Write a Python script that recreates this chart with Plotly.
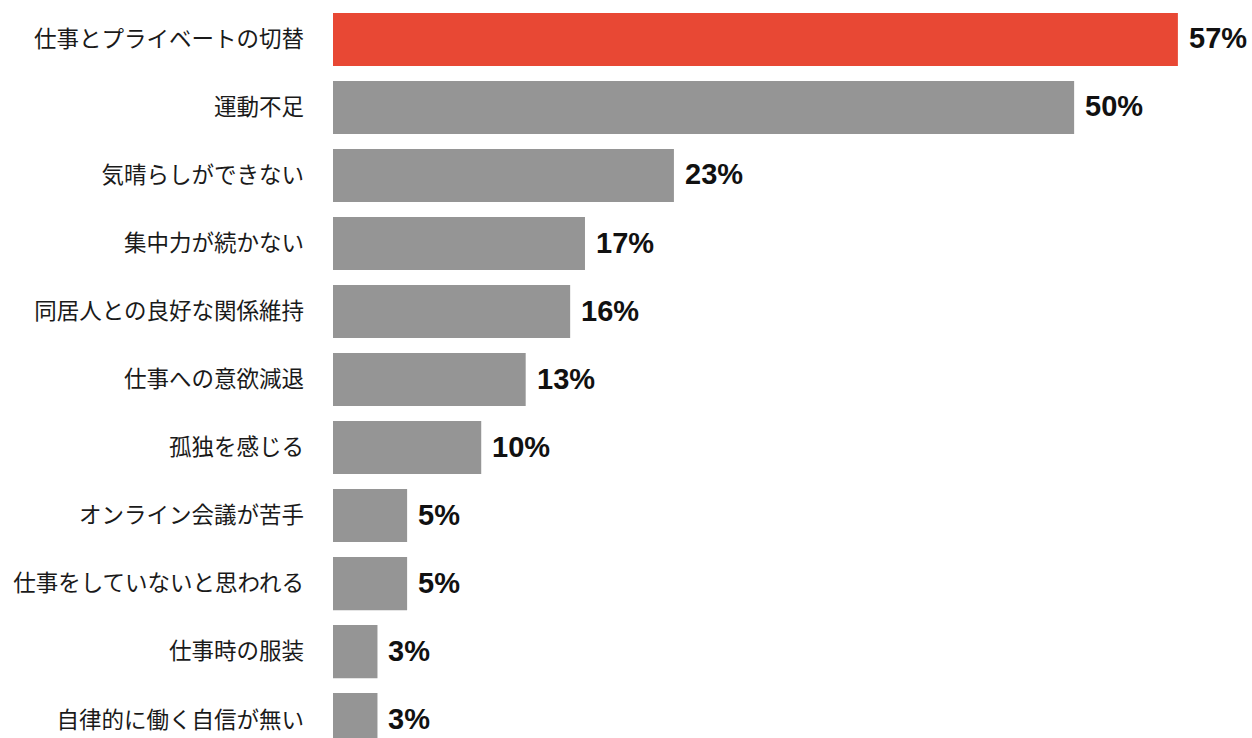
import plotly.graph_objects as go

categories = [
    "仕事とプライベートの切替",
    "運動不足",
    "気晴らしができない",
    "集中力が続かない",
    "同居人との良好な関係維持",
    "仕事への意欲減退",
    "孤独を感じる",
    "オンライン会議が苦手",
    "仕事をしていないと思われる",
    "仕事時の服装",
    "自律的に働く自信が無い",
]
values = [57, 50, 23, 17, 16, 13, 10, 5, 5, 3, 3]
highlight = "仕事とプライベートの切替"

RED = "#E84834"
GRAY = "#959595"
colors = [RED if c == highlight else GRAY for c in categories]

fig = go.Figure()
fig.add_trace(go.Bar(
    x=values,
    y=categories,
    orientation="h",
    marker=dict(color=colors, line=dict(width=0)),
    width=0.78,
    hoverinfo="skip",
))

for c, v in zip(categories, values):
    fig.add_annotation(
        x=v, y=c, text=f"<b>{v}%</b>", showarrow=False,
        xanchor="left", yanchor="middle", xshift=9, yshift=1,
        font=dict(family="Liberation Sans, Arial, sans-serif", size=29, color="#111111"),
    )

fig.update_layout(
    width=1252, height=738,
    margin=dict(l=333, r=0, t=0, b=0),
    paper_bgcolor="white", plot_bgcolor="white",
    showlegend=False,
    xaxis=dict(range=[0, 62.0], visible=False, showgrid=False, zeroline=False, fixedrange=True),
    yaxis=dict(
        type="category",
        categoryorder="array", categoryarray=categories,
        range=[10.27, -0.58],
        showgrid=False, zeroline=False, showline=False,
        ticks="", ticklabelstandoff=28,
        tickfont=dict(family="Noto Sans CJK JP", size=22.5, color="#1a1a1a"),
    ),
)

fig.write_html("out.html")
